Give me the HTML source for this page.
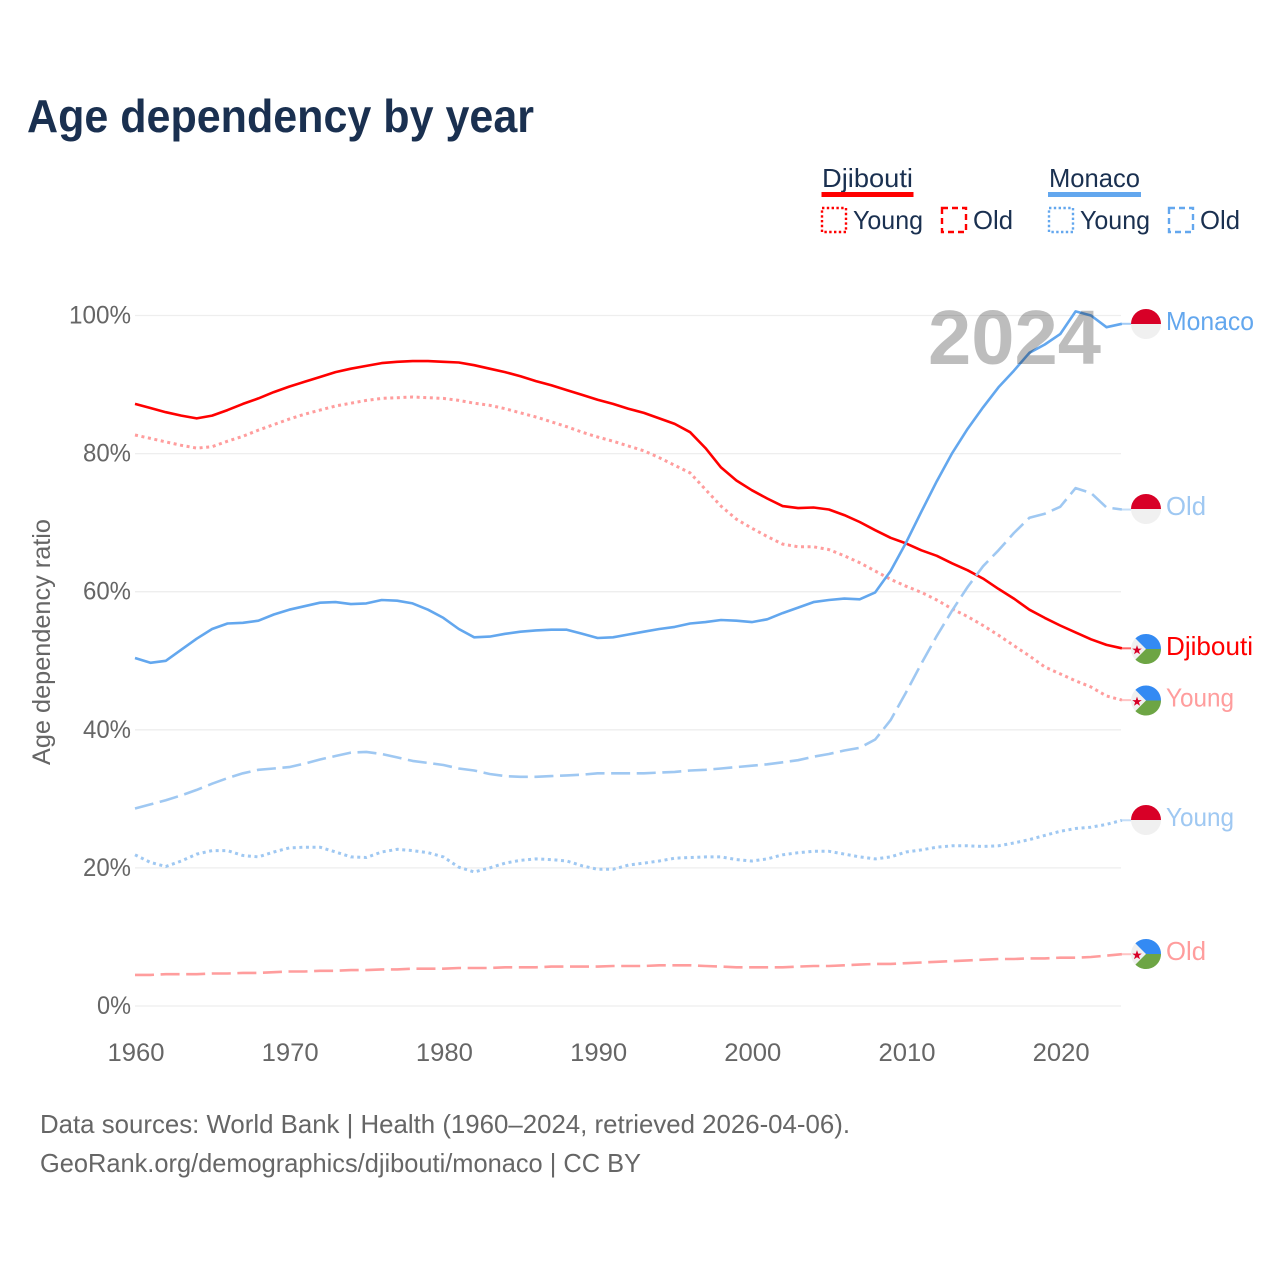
<!DOCTYPE html>
<html lang="en">
<head>
<meta charset="utf-8">
<title>Age dependency by year</title>
<style>
  html, body { margin: 0; padding: 0; background: #fff; }
  svg { display: block; font-family: "Liberation Sans", sans-serif; }
  .tick { font-size: 25px; fill: #666; }
  .legend-text { font-size: 26px; fill: #1a3050; }
  .foot { font-size: 26px; fill: #666; }
  .end { font-size: 26px; }
</style>
</head>
<body>
<svg id="chart" width="1280" height="1280" viewBox="0 0 1280 1280" xmlns="http://www.w3.org/2000/svg">
  <rect x="0" y="0" width="1280" height="1280" fill="#ffffff"/>
  <text x="27" y="132" font-size="46" font-weight="700" fill="#1a3050" textLength="507" lengthAdjust="spacingAndGlyphs">Age dependency by year</text>

  <g>
    <text class="legend-text" x="822" y="187" textLength="91" lengthAdjust="spacingAndGlyphs">Djibouti</text>
    <rect x="821.500" y="192" width="92" height="5" fill="#ff0000"/>
    <rect x="822" y="208" width="24" height="24" fill="none" stroke="#ff0000" stroke-width="2.400" stroke-dasharray="2.400 2.400"/>
    <text class="legend-text" x="853" y="229" textLength="70" lengthAdjust="spacingAndGlyphs">Young</text>
    <rect x="942" y="208" width="24" height="24" fill="none" stroke="#ff0000" stroke-width="2.400" stroke-dasharray="6 4"/>
    <text class="legend-text" x="973" y="229" textLength="40" lengthAdjust="spacingAndGlyphs">Old</text>

    <text class="legend-text" x="1049" y="187" textLength="91" lengthAdjust="spacingAndGlyphs">Monaco</text>
    <rect x="1048" y="192" width="93" height="5" fill="#63a7ee"/>
    <rect x="1049" y="208" width="24" height="24" fill="none" stroke="#63a7ee" stroke-width="2.400" stroke-dasharray="2.400 2.400"/>
    <text class="legend-text" x="1080" y="229" textLength="70" lengthAdjust="spacingAndGlyphs">Young</text>
    <rect x="1169" y="208" width="24" height="24" fill="none" stroke="#63a7ee" stroke-width="2.400" stroke-dasharray="6 4"/>
    <text class="legend-text" x="1200" y="229" textLength="40" lengthAdjust="spacingAndGlyphs">Old</text>
  </g>

  <g id="grid"></g>
  <g id="yticks"></g>
  <g id="xticks"></g>
  <text class="tick" transform="translate(50,765) rotate(-90)" x="0" y="0" textLength="246" lengthAdjust="spacingAndGlyphs">Age dependency ratio</text>

  <g id="series"></g>
  <g id="ends"></g>

  <text x="928" y="364" font-size="77" font-weight="700" fill="#000000" fill-opacity="0.26" textLength="173" lengthAdjust="spacingAndGlyphs">2024</text>

  <text class="foot" x="40" y="1133" textLength="810" lengthAdjust="spacingAndGlyphs">Data sources: World Bank | Health (1960–2024, retrieved 2026-04-06).</text>
  <text class="foot" x="40" y="1172" textLength="601" lengthAdjust="spacingAndGlyphs">GeoRank.org/demographics/djibouti/monaco | CC BY</text>
</svg>
<script>
const startYear = 1960;
const xTickLabels = [1960, 1970, 1980, 1990, 2000, 2010, 2020];
const yTickLabels = [0, 20, 40, 60, 80, 100];

const djiboutiTotal = [
  87.2,86.6,86.0,85.5,85.1,85.5,86.3,87.2,88.0,88.9,
  89.7,90.4,91.1,91.8,92.3,92.7,93.1,93.3,93.4,93.4,
  93.3,93.2,92.8,92.3,91.8,91.2,90.5,89.9,89.2,88.5,
  87.8,87.2,86.5,85.9,85.1,84.3,83.1,80.8,78.0,76.1,
  74.7,73.5,72.4,72.1,72.2,71.9,71.1,70.1,68.9,67.8,
  67.0,66.0,65.2,64.1,63.1,61.9,60.4,59.0,57.4,56.2,
  55.1,54.1,53.1,52.3,51.8
];
const djiboutiYoung = [
  82.7,82.2,81.7,81.2,80.8,81.0,81.8,82.5,83.4,84.2,
  85.0,85.7,86.3,86.9,87.3,87.7,88.0,88.1,88.2,88.1,
  88.0,87.7,87.3,87.0,86.5,85.9,85.3,84.6,83.9,83.1,
  82.4,81.8,81.1,80.4,79.4,78.3,77.2,74.8,72.4,70.5,
  69.2,68.0,66.9,66.5,66.5,66.1,65.2,64.2,63.0,61.8,
  60.8,59.9,58.8,57.5,56.4,55.1,53.7,52.2,50.7,49.1,
  48.1,47.1,46.2,44.9,44.3
];
const djiboutiOld = [
  4.5,4.5,4.6,4.6,4.6,4.7,4.7,4.8,4.8,4.9,
  5.0,5.0,5.1,5.1,5.2,5.2,5.3,5.3,5.4,5.4,
  5.4,5.5,5.5,5.5,5.6,5.6,5.6,5.7,5.7,5.7,
  5.7,5.8,5.8,5.8,5.9,5.9,5.9,5.8,5.7,5.6,
  5.6,5.6,5.6,5.7,5.8,5.8,5.9,6.0,6.1,6.1,
  6.2,6.3,6.4,6.5,6.6,6.7,6.8,6.8,6.9,6.9,
  7.0,7.0,7.1,7.3,7.5
];
const monacoTotal = [
  50.4,49.7,50.0,51.6,53.2,54.6,55.4,55.5,55.8,56.7,
  57.4,57.9,58.4,58.5,58.2,58.3,58.8,58.7,58.3,57.4,
  56.2,54.6,53.4,53.5,53.9,54.2,54.4,54.5,54.5,53.9,
  53.3,53.4,53.8,54.2,54.6,54.9,55.4,55.6,55.9,55.8,
  55.6,56.0,56.9,57.7,58.5,58.8,59.0,58.9,59.9,63.0,
  67.1,71.6,76.0,80.1,83.6,86.7,89.6,92.0,94.6,95.8,
  97.3,100.6,100.0,98.3,98.8
];
const monacoYoung = [
  21.9,20.8,20.2,21.0,22.0,22.5,22.5,21.8,21.6,22.3,
  22.9,23.0,23.0,22.3,21.6,21.5,22.3,22.7,22.5,22.2,
  21.6,20.1,19.4,20.0,20.7,21.1,21.3,21.2,21.0,20.3,
  19.8,19.8,20.4,20.7,21.0,21.4,21.5,21.6,21.6,21.2,
  21.0,21.3,21.9,22.2,22.4,22.4,22.0,21.6,21.3,21.6,
  22.3,22.6,23.0,23.2,23.2,23.1,23.2,23.6,24.1,24.7,
  25.3,25.7,25.9,26.3,26.9
];
const monacoOld = [
  28.6,29.2,29.8,30.5,31.3,32.2,33.0,33.7,34.2,34.4,
  34.6,35.1,35.7,36.2,36.7,36.8,36.5,36.0,35.5,35.2,
  34.9,34.4,34.1,33.6,33.3,33.2,33.2,33.3,33.4,33.5,
  33.7,33.7,33.7,33.7,33.8,33.9,34.1,34.2,34.4,34.6,
  34.8,35.0,35.3,35.6,36.1,36.5,37.0,37.4,38.6,41.4,
  45.4,49.6,53.6,57.3,60.7,63.7,66.0,68.5,70.7,71.3,
  72.3,75.0,74.3,72.2,71.9
];

const seriesList = [
  { key: 'djibouti-total', values: djiboutiTotal, color: '#ff0000', dash: '', flag: 'dj', label: 'Djibouti', labelWidth: 87, labelColor: '#ff0000' },
  { key: 'djibouti-young', values: djiboutiYoung, color: '#ff9d9d', dash: '3 3.600', flag: 'dj', label: 'Young', labelWidth: 68, labelColor: '#ff9d9d' },
  { key: 'djibouti-old', values: djiboutiOld, color: '#ff9d9d', dash: '19 6.600', flag: 'dj', label: 'Old', labelWidth: 40, labelColor: '#ff9d9d' },
  { key: 'monaco-total', values: monacoTotal, color: '#63a7ee', dash: '', flag: 'mc', label: 'Monaco', labelWidth: 88, labelColor: '#63a7ee' },
  { key: 'monaco-young', values: monacoYoung, color: '#9fc8f2', dash: '3 3.600', flag: 'mc', label: 'Young', labelWidth: 68, labelColor: '#9fc8f2' },
  { key: 'monaco-old', values: monacoOld, color: '#9fc8f2', dash: '19 6.600', flag: 'mc', label: 'Old', labelWidth: 40, labelColor: '#9fc8f2' }
];

const NS = 'http://www.w3.org/2000/svg';
const xScale = function (year) { return 135 + (year - 1960) * 15.42; };
const yScale = function (pct) { return 1006 - pct * 6.905; };

const make = function (tag, parent) {
  const el = document.createElementNS(NS, tag);
  parent.appendChild(el);
  return el;
};

const gridGroup = document.getElementById('grid');
const yTickGroup = document.getElementById('yticks');
const xTickGroup = document.getElementById('xticks');
const seriesGroup = document.getElementById('series');
const endGroup = document.getElementById('ends');

yTickLabels.forEach(function (t) {
  const line = make('line', gridGroup);
  
  
  line.setAttribute('x1', 135);
  line.setAttribute('x2', 1121);
  line.setAttribute('y1', yScale(t));
  line.setAttribute('y2', yScale(t));
  line.setAttribute('stroke', '#eeeeee');
  line.setAttribute('stroke-width', 1.3);

  const text = make('text', yTickGroup);
  
  
  text.setAttribute('class', 'tick');
  text.setAttribute('x', 131);
  text.setAttribute('y', yScale(t) + 8);
  text.setAttribute('text-anchor', 'end');
  text.setAttribute('textLength', t === 100 ? 62 : (t === 0 ? 34 : 48));
  text.setAttribute('lengthAdjust', 'spacingAndGlyphs');
  text.textContent = t + '%';
});

xTickLabels.forEach(function (y) {
  const text = make('text', xTickGroup);
  
  
  text.setAttribute('class', 'tick');
  text.setAttribute('x', xScale(y) + 1);
  text.setAttribute('y', 1061);
  text.setAttribute('text-anchor', 'middle');
  text.setAttribute('textLength', 57);
  text.setAttribute('lengthAdjust', 'spacingAndGlyphs');
  text.textContent = String(y);
});

const drawFlag = function (kind, cx, cy) {
  const g = make('g', endGroup);
  
  
  g.setAttribute('transform', 'translate(' + cx + ',' + cy + ')');
  const r = 15;
  const base = make('circle', g);
  base.setAttribute('r', r);
  base.setAttribute('fill', '#f0f0f0');
  if (kind === 'mc') {
    const top = make('path', g);
    top.setAttribute('d', 'M-15 0A15 15 0 0 1 15 0Z');
    top.setAttribute('fill', '#d80027');
  } else {
    const blue = make('path', g);
    blue.setAttribute('d', 'M-10.600 -10.600A15 15 0 0 1 15 0H0Z');
    blue.setAttribute('fill', '#338af3');
    const green = make('path', g);
    green.setAttribute('d', 'M-10.600 10.600A15 15 0 0 0 15 0H0Z');
    green.setAttribute('fill', '#6da544');
    const star = make('path', g);
    star.setAttribute('d', 'M-9 -3.900L-7.800 -0.400L-4.200 -0.400L-7.100 1.800L-6 5.300L-9 3.200L-12 5.300L-10.900 1.800L-13.800 -0.400L-10.200 -0.400Z');
    star.setAttribute('fill', '#d80027');
  }
};

const flagCentres = { 'monaco-total': 324, 'monaco-old': 509, 'djibouti-total': 649, 'djibouti-young': 700.500, 'monaco-young': 820, 'djibouti-old': 954 };

seriesList.forEach(function (s) {
  const pts = s.values.map(function (v, i) {
    return xScale(startYear + i).toFixed(1) + ',' + yScale(v).toFixed(1);
  });
  const path = make('polyline', seriesGroup);
  
  
  path.setAttribute('points', pts.join(' '));
  path.setAttribute('fill', 'none');
  path.setAttribute('stroke', s.color);
  path.setAttribute('stroke-width', s.dash === '3 3.600' ? 3 : 2.600);
  path.setAttribute('stroke-linejoin', 'round');
  if (s.dash) { path.setAttribute('stroke-dasharray', s.dash); }

  const lastIndex = s.values.length - 1;
  const lastY = yScale(s.values[lastIndex]);
  const lastX = xScale(startYear + lastIndex);
  const leader = make('line', seriesGroup);
  
  
  leader.setAttribute('x1', lastX);
  leader.setAttribute('x2', 1131);
  leader.setAttribute('y1', lastY);
  leader.setAttribute('y2', lastY);
  leader.setAttribute('stroke', s.color);
  leader.setAttribute('stroke-width', 2);
  leader.setAttribute('stroke-opacity', 0.6);

  const cy = flagCentres[s.key];
  drawFlag(s.flag, 1146, cy);

  const label = make('text', endGroup);
  
  
  label.setAttribute('class', 'end');
  label.setAttribute('x', 1166);
  label.setAttribute('y', cy + 6);
  label.setAttribute('fill', s.labelColor);
  label.setAttribute('textLength', s.labelWidth);
  label.setAttribute('lengthAdjust', 'spacingAndGlyphs');
  label.textContent = s.label;
});
</script>
</body>
</html>
